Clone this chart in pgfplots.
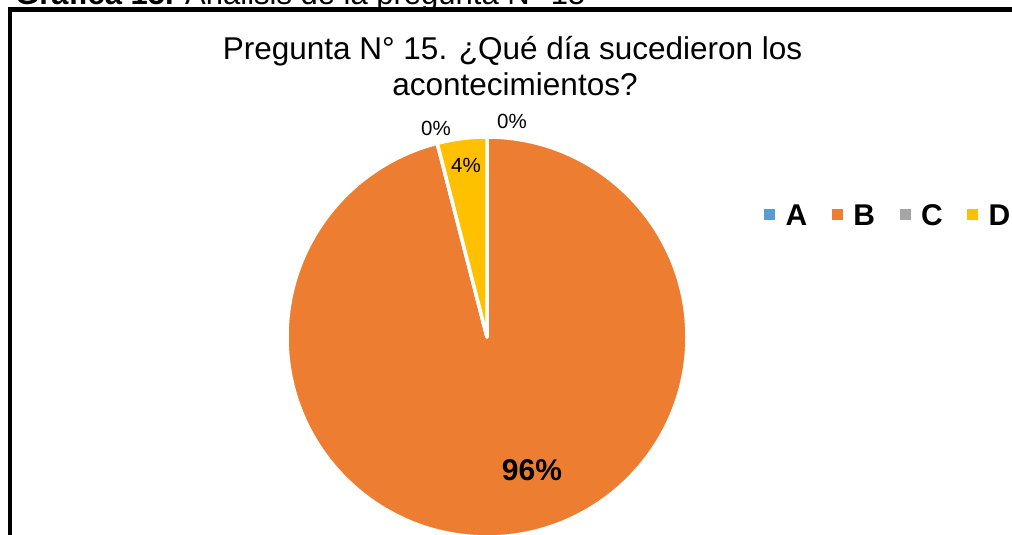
\documentclass[border=0pt]{standalone}
\usepackage{fontspec}
\setmainfont{Liberation Sans}
\usepackage{pgfplots}
\usepackage{pgfplotstable}
\pgfplotsset{compat=1.18}
\definecolor{pieA}{HTML}{5B9BD5}
\definecolor{pieB}{HTML}{ED7D31}
\definecolor{pieC}{HTML}{A5A5A5}
\definecolor{pieD}{HTML}{FFC000}

\pgfplotstableread{
label value color
A 0 pieA
B 96 pieB
C 0 pieC
D 4 pieD
}\piedata

\begin{document}
\begin{tikzpicture}
\useasboundingbox (0,0) rectangle (1012bp,535bp);
\clip (0,0) rectangle (1012bp,535bp);
\begin{axis}[at={(0,0)}, anchor=south west, scale only axis,
  width=1012bp, height=535bp,
  xmin=0, xmax=1012, ymin=0, ymax=535,
  hide axis, clip=false,
  legend style={at={(axis cs:764,319)}, anchor=west, draw=none, fill=none,
    inner sep=0pt, legend columns=4,
    font=\fontsize{30bp}{34bp}\selectfont\bfseries,
    nodes={inner sep=0pt},
    /tikz/every odd column/.style={column sep=10.5bp},
    /tikz/every even column/.style={column sep=24.5bp}},
  legend image code/.code={\fill[#1, draw=none] (0bp,-4bp) rectangle (11bp,7bp);}]

\pgfmathsetmacro\startang{90}
\pgfplotsforeachungrouped \i in {0,1,2,3}{%
  \pgfplotstablegetelem{\i}{value}\of\piedata
  \let\val\pgfplotsretval
  \pgfplotstablegetelem{\i}{color}\of\piedata
  \let\col\pgfplotsretval
  \pgfmathsetmacro\endang{\startang-3.6*\val}%
  \edef\cmd{\noexpand\filldraw[fill=\col, draw=white, line width=3.5bp, line join=round] (axis cs:487,198) -- ++(\startang:200bp) arc[start angle=\startang, end angle=\endang, radius=200bp] -- cycle;}%
  \cmd
  \global\let\startang\endang
}

\addlegendimage{fill=pieA}\addlegendentry{A}
\addlegendimage{fill=pieB}\addlegendentry{B}
\addlegendimage{fill=pieC}\addlegendentry{C}
\addlegendimage{fill=pieD}\addlegendentry{D}

\node[font=\fontsize{20.5bp}{24bp}\selectfont] at (axis cs:512,414) {0\%};
\node[font=\fontsize{20.5bp}{24bp}\selectfont] at (axis cs:436,407) {0\%};
\node[font=\fontsize{20.5bp}{24bp}\selectfont] at (axis cs:466,370) {4\%};
\node[font=\fontsize{30bp}{34bp}\selectfont\bfseries] at (axis cs:532,65) {96\%};

\node[anchor=base, font=\fontsize{31.5bp}{36bp}\selectfont, inner sep=0pt] at (axis cs:512.5,475) {Pregunta N° 15. ¿Qué día sucedieron los};
\node[anchor=base, font=\fontsize{31.5bp}{36bp}\selectfont, inner sep=0pt] at (axis cs:515,439) {acontecimientos?};

\node[anchor=base west, font=\fontsize{31bp}{36bp}\selectfont, inner sep=0pt] at (axis cs:15,530) {\textbf{Gráfica 15.} Análisis de la pregunta N° 15};

\draw[line width=4.5bp] (axis cs:10,-20) -- (axis cs:10,525.5) -- (axis cs:1040,525.5);
\end{axis}
\end{tikzpicture}
\end{document}
